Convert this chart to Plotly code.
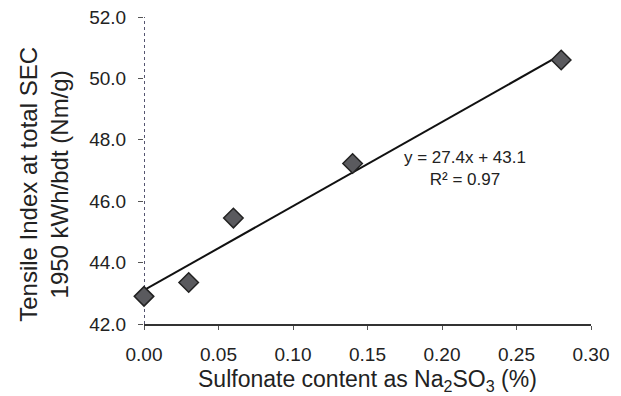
import plotly.graph_objects as go

# Data
sulfonate = [0.0, 0.03, 0.06, 0.14, 0.28]
tensile = [42.9, 43.35, 45.45, 47.23, 50.6]
slope, intercept = 27.4, 43.1
fit_x = [0.0, 0.28]
fit_y = [intercept + slope * x for x in fit_x]
x_ticks = [0.0, 0.05, 0.10, 0.15, 0.20, 0.25, 0.30]
y_ticks = [42, 44, 46, 48, 50, 52]

font = "Liberation Sans, Arial, sans-serif"
fig = go.Figure()
fig.add_trace(go.Scatter(x=fit_x, y=fit_y, mode="lines",
                         line=dict(color="#111111", width=2), showlegend=False))
fig.add_trace(go.Scatter(x=sulfonate, y=tensile, mode="markers",
                         marker=dict(symbol="diamond", size=15, color="#5a5a5e",
                                     line=dict(color="#222222", width=1.5)),
                         showlegend=False, cliponaxis=False))
fig.add_annotation(x=0.2155, y=47.05, xref="x", yref="y",
                   text="y = 27.4x + 43.1<br>R² = 0.97", showarrow=False,
                   font=dict(family=font, size=17, color="#222"), align="center")
# y-axis title as rotated annotation
fig.add_annotation(x=-0.2226, y=0.455, xref="paper", yref="paper",
                   text="Tensile Index at total SEC<br>1950 kWh/bdt (Nm/g)", textangle=-90,
                   showarrow=False, xanchor="center", yanchor="middle",
                   font=dict(family=font, size=24, color="#222"), align="center")
# x-axis title as annotation
fig.add_annotation(x=0.5, y=-0.185, xref="paper", yref="paper",
                   text="Sulfonate content as Na<sub>2</sub>SO<sub>3</sub> (%)",
                   showarrow=False, xanchor="center", yanchor="middle",
                   font=dict(family=font, size=23, color="#222"))
# dotted left axis line
fig.add_shape(type="line", xref="x", yref="paper", x0=0, x1=0, y0=0, y1=1,
              line=dict(color="#555570", width=2, dash="dot"), layer="below")

fig.update_layout(
    width=621, height=396,
    margin=dict(l=144, r=30, t=17, b=72),
    paper_bgcolor="white", plot_bgcolor="white",
    font=dict(family=font, color="#222"),
)
fig.update_xaxes(range=[0, 0.30], tickvals=x_ticks, ticktext=[f"{v:.2f}" for v in x_ticks],
                 showgrid=False, zeroline=False, showline=True, linecolor="#333", linewidth=1.5,
                 ticks="outside", ticklen=4, tickcolor="#555", ticklabelstandoff=8,
                 automargin=False,
                 tickfont=dict(size=19, family=font, color="#222"))
fig.update_yaxes(range=[42, 52], tickvals=y_ticks, ticktext=[f"{v:.1f}" for v in y_ticks],
                 showgrid=False, zeroline=False, showline=False, automargin=False,
                 ticks="outside", ticklen=5, tickcolor="#555", ticklabelstandoff=8,
                 tickfont=dict(size=19, family=font, color="#222"))
fig.write_html("out.html")
